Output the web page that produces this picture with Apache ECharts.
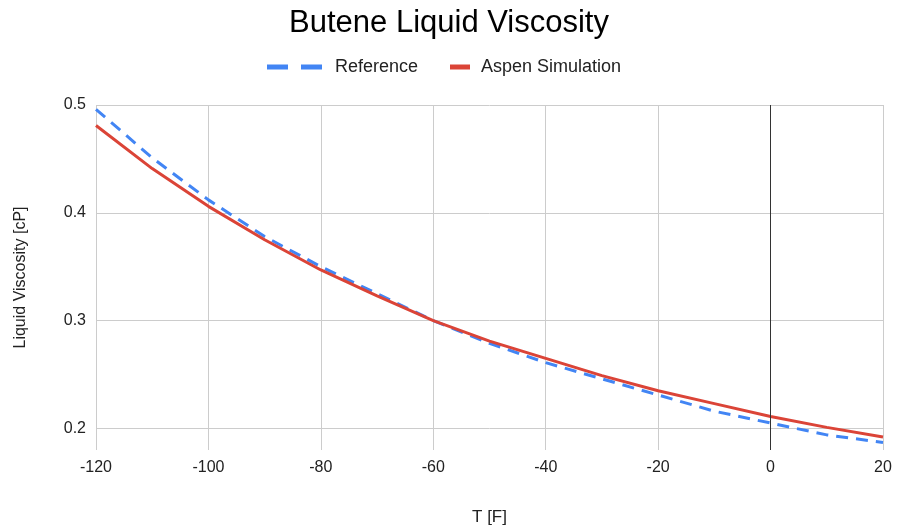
<!DOCTYPE html>
<html>
<head>
<meta charset="utf-8">
<script src="https://cdn.jsdelivr.net/npm/echarts@6/dist/echarts.min.js"></script>
<style>html,body{margin:0;padding:0;background:#fff;}#c{width:898px;height:531px;}</style>
</head>
<body>
<div id="c"></div>
<script>
const temps = [-120, -110, -100, -90, -80, -70, -60, -50, -40, -30, -20, -10, 0, 10, 20];
const reference = [0.496, 0.451, 0.412, 0.378, 0.350, 0.325, 0.300, 0.279, 0.261, 0.246, 0.231, 0.216, 0.205, 0.194, 0.187];
const aspen = [0.481, 0.441, 0.406, 0.375, 0.347, 0.323, 0.300, 0.281, 0.265, 0.249, 0.235, 0.223, 0.211, 0.201, 0.192];
const yTicks = [0.2, 0.3, 0.4, 0.5];

const FONT = 'Arial, "Liberation Sans", sans-serif';
const chart = echarts.init(document.getElementById('c'), null, {renderer: 'canvas'});
chart.setOption({
  animation: false,
  title: {
    text: 'Butene Liquid Viscosity', left: 'center', top: 3,
    textStyle: {fontFamily: FONT, fontSize: 31, fontWeight: 'normal', color: '#000'}
  },
  legend: [
    {
      data: [{name: 'Reference', icon: 'path://M0,0H21V5H0Z M34,0H55V5H34Z', itemStyle: {color: '#4285F4'}}],
      left: 267, top: 58, padding: 0, itemWidth: 55, itemHeight: 5,
      textStyle: {fontFamily: FONT, fontSize: 18, color: '#222', padding: [0, 0, 0, 8]}
    },
    {
      data: [{name: 'Aspen Simulation', icon: 'rect', itemStyle: {color: '#DB4437'}}],
      left: 450, top: 58, padding: 0, itemWidth: 20, itemHeight: 5,
      textStyle: {fontFamily: FONT, fontSize: 18, color: '#222', padding: [0, 0, 0, 6]}
    }
  ],
  grid: {left: 96, right: 15, top: 105, bottom: 81, containLabel: false},
  xAxis: {
    type: 'value', min: -120, max: 20, interval: 20,
    name: 'T [F]', nameLocation: 'middle', nameGap: 59,
    nameTextStyle: {fontFamily: FONT, fontSize: 17, color: '#222'},
    axisLine: {show: false}, axisTick: {show: false},
    axisLabel: {fontFamily: FONT, fontSize: 16, color: '#222', margin: 10},
    splitLine: {show: true, lineStyle: {color: '#ccc', width: 1}}
  },
  yAxis: {
    type: 'value', min: 0.18, max: 0.5,
    name: 'Liquid Viscosity [cP]', nameLocation: 'middle', nameGap: 67,
    nameTextStyle: {fontFamily: FONT, fontSize: 16, color: '#222'},
    axisLine: {show: false},
    axisTick: {show: false, customValues: yTicks},
    axisLabel: {fontFamily: FONT, fontSize: 16, color: '#222', margin: 10, customValues: yTicks,
      formatter: v => v.toFixed(1)},
    splitLine: {show: true, lineStyle: {color: '#ccc', width: 1}}
  },
  series: [
    {
      name: 'Reference', type: 'line', symbol: 'none',
      data: temps.map((t, i) => [t, reference[i]]),
      lineStyle: {color: '#4285F4', width: 3, type: [12, 8]},
      itemStyle: {color: '#4285F4'}, z: 3
    },
    {
      name: 'Aspen Simulation', type: 'line', symbol: 'none',
      data: temps.map((t, i) => [t, aspen[i]]),
      lineStyle: {color: '#DB4437', width: 3},
      itemStyle: {color: '#DB4437'}, z: 4,
      markLine: {
        silent: true, symbol: 'none', label: {show: false},
        lineStyle: {color: '#333', width: 1, type: 'solid'},
        data: [{xAxis: 0}]
      }
    }
  ]
});
</script>
</body>
</html>
